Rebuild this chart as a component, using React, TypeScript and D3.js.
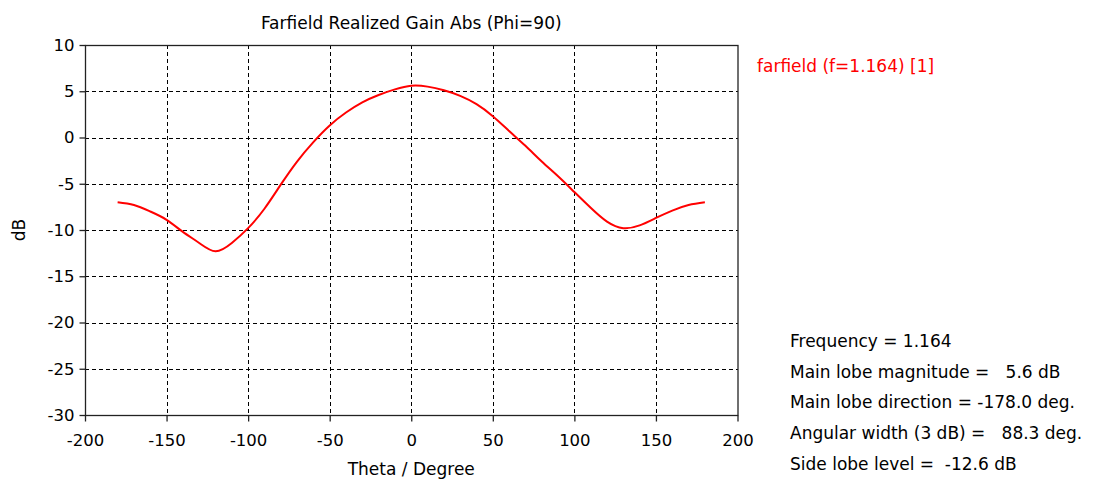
import * as d3 from 'd3';
import { useEffect, useRef } from 'react';

// theta in degrees, gain in dB
const theta = [-180, -170, -160, -150, -140, -130, -120, -110, -100, -90, -80, -70, -60, -50, -40, -30, -20, -10, 0,
    10, 20, 30, 40, 50, 60, 70, 80, 90, 100, 110, 120, 130, 140, 150, 160, 170, 180];
const gain = [-7.0, -7.3, -8.0, -8.9, -10.2, -11.4, -12.3, -11.4, -9.8, -7.7, -5.1, -2.6, -0.5, 1.3, 2.7, 3.8, 4.6, 5.2, 5.6,
    5.5, 5.1, 4.5, 3.6, 2.3, 0.7, -0.9, -2.6, -4.2, -5.9, -7.6, -9.1, -9.8, -9.5, -8.7, -7.9, -7.3, -7.0];

const xTicks = [-200, -150, -100, -50, 0, 50, 100, 150, 200];
const yTicks = [10, 5, 0, -5, -10, -15, -20, -25, -30];

const title = 'Farfield Realized Gain Abs (Phi=90)';
const legendLabel = 'farfield (f=1.164) [1]';
const infoLines = [
    'Frequency = 1.164',
    'Main lobe magnitude =   5.6 dB',
    'Main lobe direction = -178.0 deg.',
    'Angular width (3 dB) =   88.3 deg.',
    'Side lobe level =  -12.6 dB',
];

const FarfieldChart = () => {
    const ref = useRef<SVGSVGElement>(null);

    useEffect(() => {
        const svg: any = d3.select(ref.current);
        svg.selectAll('*').remove();

        const left = 85, right = 737.5, top = 45, bottom = 415;
        const font = '"DejaVu Sans", sans-serif';

        const x = d3.scaleLinear().domain([-200, 200]).range([left, right]);
        const y = d3.scaleLinear().domain([-30, 10]).range([bottom, top]);

        // grid
        const grid = svg.append('g')
            .attr('stroke', '#000')
            .attr('stroke-width', 1)
            .attr('stroke-dasharray', '4,3')
            .attr('shape-rendering', 'crispEdges');
        grid.selectAll('.vg')
            .data(xTicks.slice(1, -1))
            .enter()
            .append('line')
            .attr('x1', (d: any) => Math.round(x(d)) + 0.5)
            .attr('x2', (d: any) => Math.round(x(d)) + 0.5)
            .attr('y1', top)
            .attr('y2', bottom);
        grid.selectAll('.hg')
            .data(yTicks.slice(1, -1))
            .enter()
            .append('line')
            .attr('y1', (d: any) => Math.round(y(d)) + 0.5)
            .attr('y2', (d: any) => Math.round(y(d)) + 0.5)
            .attr('x1', left)
            .attr('x2', right);

        // frame
        svg.append('rect')
            .attr('x', left + 0.5)
            .attr('y', top + 0.5)
            .attr('width', right - left)
            .attr('height', bottom - top)
            .attr('fill', 'none')
            .attr('stroke', '#222')
            .attr('stroke-width', 1.3);

        // axes
        const xAxis = svg.append('g')
            .attr('transform', `translate(0,${bottom + 0.5})`)
            .call(d3.axisBottom(x).tickValues(xTicks).tickSize(6).tickPadding(13).tickFormat((d: any) => String(d)));
        const yAxis = svg.append('g')
            .attr('transform', `translate(${left + 0.5},0)`)
            .call(d3.axisLeft(y).tickValues(yTicks).tickSize(6).tickPadding(5).tickFormat((d: any) => String(d)));
        [xAxis, yAxis].forEach((a: any) => {
            a.select('.domain').remove();
            a.selectAll('line').attr('stroke', '#222').attr('stroke-width', 1.3);
            a.selectAll('text')
                .style('font-family', font)
                .style('font-size', '16.5px')
                .attr('fill', '#000');
        });

        // curve
        const line: any = d3.line()
            .x((d: any) => x(d[0]))
            .y((d: any) => y(d[1]))
            .curve(d3.curveNatural);
        svg.append('path')
            .datum(theta.map((t, i) => [t, gain[i]]))
            .attr('d', line)
            .attr('fill', 'none')
            .attr('stroke', '#ff0000')
            .attr('stroke-width', 2);

        // labels
        svg.append('text')
            .text(title)
            .attr('x', (left + right) / 2)
            .attr('y', 29)
            .style('text-anchor', 'middle')
            .style('font-family', font)
            .style('font-size', '17px');
        svg.append('text')
            .text('Theta / Degree')
            .attr('x', (left + right) / 2)
            .attr('y', 475)
            .style('text-anchor', 'middle')
            .style('font-family', font)
            .style('font-size', '17px');
        svg.append('text')
            .text('dB')
            .attr('transform', 'translate(25,230) rotate(-90)')
            .style('text-anchor', 'middle')
            .style('font-family', font)
            .style('font-size', '17px');
        svg.append('text')
            .text(legendLabel)
            .attr('x', 757)
            .attr('y', 72)
            .attr('fill', '#ff0000')
            .style('font-family', font)
            .style('font-size', '17px');
        svg.selectAll('.info')
            .data(infoLines)
            .enter()
            .append('text')
            .text((d: any) => d)
            .attr('x', 790)
            .attr('y', (d: any, i: number) => 347 + i * 30.7)
            .style('white-space', 'pre')
            .style('font-family', font)
            .style('font-size', '17px');
    }, []);

    return (
        <svg ref={ref} width={1096} height={481}
            style={{ position: 'absolute', left: 0, top: 0, background: '#fff' }} />
    );
};

export default function App() {
    return <FarfieldChart />;
}
